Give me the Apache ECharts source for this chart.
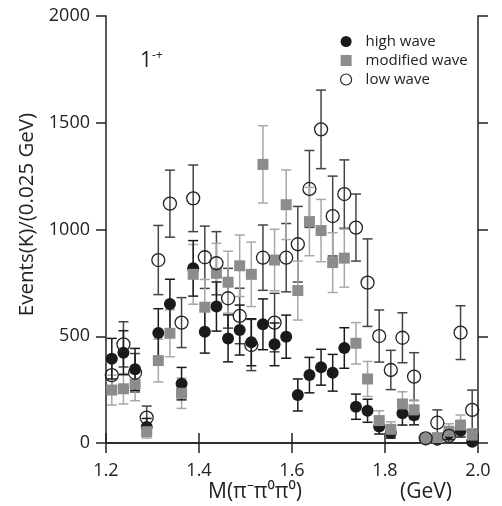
<!DOCTYPE html>
<html>
<head>
<meta charset="utf-8">
<script src="https://cdn.jsdelivr.net/npm/echarts@6/dist/echarts.min.js"></script>
<style>html,body{margin:0;padding:0;background:#fff}#c{width:502px;height:506px}</style>
</head>
<body>
<div id="c"></div>
<script>
// Bin centres, M(pi- pi0 pi0) in GeV (0.025 GeV bins)
const massBins = [1.2125, 1.2375, 1.2625, 1.2875, 1.3125, 1.3375, 1.3625, 1.3875,
  1.4125, 1.4375, 1.4625, 1.4875, 1.5125, 1.5375, 1.5625, 1.5875,
  1.6125, 1.6375, 1.6625, 1.6875, 1.7125, 1.7375, 1.7625, 1.7875,
  1.8125, 1.8375, 1.8625, 1.8875, 1.9125, 1.9375, 1.9625, 1.9875];

const highWave = [395, 423, 345, 75, 515, 651, 278, 818, 521, 639, 490, 529, 472, 556, 462, 498,
  225, 318, 355, 329, 445, 170, 151, 77, 48, 139, 130, 18, 15, 45, 58, 6];
const highErr = [95, 103, 98, 40, 114, 116, 76, 130, 100, 115, 110, 117, 110, 119, 100, 101,
  75, 83, 84, 86, 95, 59, 54, 35, 25, 55, 45, 15, 15, 30, 30, 15];

const modifiedWave = [248, 254, 276, 53, 386, 514, 233, 790, 636, 795, 753, 830, 790, 1305, 857, 1116,
  714, 1037, 995, 845, 866, 467, 300, 105, 64, 183, 155, 22, 25, 55, 84, 37];
const modifiedErr = [70, 71, 78, 30, 100, 110, 71, 140, 130, 140, 145, 144, 151, 181, 144, 163,
  138, 160, 146, 140, 136, 97, 82, 46, 35, 57, 46, 20, 20, 35, 47, 30];

const lowWave = [318, 462, 329, 119, 857, 1121, 564, 1146, 870, 842, 678, 595, 459, 868, 564, 868,
  931, 1190, 1469, 1063, 1166, 1009, 751, 501, 342, 493, 311, 22, 95, 33, 517, 155];
const lowErr = [80, 106, 90, 54, 162, 157, 117, 156, 146, 148, 140, 130, 120, 153, 137, 160,
  177, 180, 184, 187, 160, 157, 205, 122, 92, 117, 112, 20, 60, 40, 126, 93];

const xTicks = [1.2, 1.4, 1.6, 1.8, 2.0];
const yTicks = [0, 500, 1000, 1500, 2000];
const seriesNames = ['high wave', 'modified wave', 'low wave'];

const FONT = 'Open Sans';

function points(vals) { return massBins.map((m, i) => [m, vals[i]]); }
function bars(vals, errs) { return massBins.map((m, i) => [m, vals[i] - errs[i], vals[i] + errs[i]]); }

function errorBarSeries(name, vals, errs, color, z) {
  return {
    type: 'custom',
    name: name,
    z: z,
    silent: true,
    encode: { x: 0, y: [1, 2] },
    data: bars(vals, errs),
    renderItem: function (params, api) {
      const x = api.value(0);
      const lo = api.coord([x, Math.max(api.value(1), 0)]);
      const hi = api.coord([x, api.value(2)]);
      const w = 5;
      const st = { stroke: color, lineWidth: 1.5 };
      return {
        type: 'group',
        children: [
          { type: 'line', shape: { x1: lo[0], y1: lo[1], x2: hi[0], y2: hi[1] }, style: st },
          { type: 'line', shape: { x1: hi[0] - w, y1: hi[1], x2: hi[0] + w, y2: hi[1] }, style: st },
          { type: 'line', shape: { x1: lo[0] - w, y1: lo[1], x2: lo[0] + w, y2: lo[1] }, style: st }
        ]
      };
    }
  };
}

const axisLineStyle = { color: '#222', width: 1.5 };

const chart = echarts.init(document.getElementById('c'), null, { renderer: 'canvas' });
chart.setOption({
  animation: false,
  backgroundColor: '#fff',
  textStyle: { fontFamily: FONT },
  grid: { left: 106, right: 24, top: 16, bottom: 63 },
  legend: {
    orient: 'vertical',
    left: 340,
    top: 33,
    padding: 0,
    itemWidth: 11,
    itemHeight: 11,
    itemGap: 2,
    data: [
      { name: seriesNames[0], icon: 'circle', itemStyle: { color: '#1a1a1a' } },
      { name: seriesNames[1], icon: 'rect', itemStyle: { color: '#8c8c8c' } },
      { name: seriesNames[2], icon: 'circle', itemStyle: { color: '#fff', borderColor: '#222', borderWidth: 1.2 } }
    ],
    textStyle: { fontFamily: FONT, fontSize: 15, lineHeight: 17, color: '#222', padding: [0, 0, 0, 9] },
    selectedMode: false
  },
  xAxis: [{
    type: 'value', min: xTicks[0], max: xTicks[xTicks.length - 1], interval: 0.2,
    position: 'bottom',
    axisLine: { lineStyle: axisLineStyle },
    axisTick: { inside: false, length: 10, lineStyle: axisLineStyle },
    axisLabel: { margin: 19, fontSize: 18, color: '#222', fontFamily: FONT, formatter: v => v.toFixed(1) },
    splitLine: { show: false }
  }, {
    type: 'value', min: xTicks[0], max: xTicks[xTicks.length - 1], interval: 0.2,
    position: 'top',
    axisLine: { lineStyle: axisLineStyle },
    axisTick: { inside: false, length: 10, lineStyle: axisLineStyle },
    axisLabel: { show: false },
    splitLine: { show: false }
  }],
  yAxis: [{
    type: 'value', min: yTicks[0], max: yTicks[yTicks.length - 1], interval: 500,
    position: 'left',
    name: 'Events(K)/(0.025 GeV)',
    nameLocation: 'middle',
    nameGap: 66,
    nameTextStyle: { fontSize: 20.5, color: '#222', fontFamily: FONT, padding: [0, 0, 0, 30] },
    axisLine: { lineStyle: axisLineStyle },
    axisTick: { inside: false, length: 10, lineStyle: axisLineStyle },
    axisLabel: { margin: 16, fontSize: 18, color: '#222', fontFamily: FONT, formatter: v => String(v) },
    splitLine: { show: false }
  }, {
    type: 'value', min: yTicks[0], max: yTicks[yTicks.length - 1], interval: 500,
    position: 'right',
    axisLine: { lineStyle: axisLineStyle },
    axisTick: { inside: false, length: 10, lineStyle: axisLineStyle },
    axisLabel: { show: false },
    splitLine: { show: false }
  }],
  graphic: [
    { type: 'text', left: 140, top: 50, style: { rich: { a: { fontSize: 21, fontFamily: FONT, fill: '#222' }, b: { fontSize: 12, fontFamily: FONT, fill: '#222', verticalAlign: 'top', padding: [0, 0, 10, 0] } }, text: '{a|1}{b|-+}' } },
    { type: 'text', left: 208, top: 482, style: { text: 'M(π⁻π⁰π⁰)', fontSize: 21, fontFamily: FONT, fill: '#222' } },
    { type: 'text', left: 400, top: 482, style: { text: '(GeV)', fontSize: 21, fontFamily: FONT, fill: '#222' } }
  ],
  series: [
    errorBarSeries('lowErr', lowWave, lowErr, '#444', 1),
    errorBarSeries('modErr', modifiedWave, modifiedErr, '#a8a8a8', 1),
    errorBarSeries('highErr', highWave, highErr, '#1a1a1a', 1),
    {
      type: 'scatter', name: seriesNames[0], z: 3,
      symbol: 'circle', symbolSize: 12,
      itemStyle: { color: '#1a1a1a', opacity: 1 },
      data: points(highWave)
    },
    {
      type: 'scatter', name: seriesNames[1], z: 4,
      symbol: 'rect', symbolSize: 11,
      itemStyle: { color: '#8c8c8c', opacity: 1 },
      data: points(modifiedWave)
    },
    {
      type: 'scatter', name: seriesNames[2], z: 5,
      symbol: 'circle', symbolSize: 13,
      itemStyle: { color: 'rgba(0,0,0,0)', borderColor: '#222', borderWidth: 1.3, opacity: 1 },
      data: points(lowWave)
    }
  ]
});
</script>
</body>
</html>
